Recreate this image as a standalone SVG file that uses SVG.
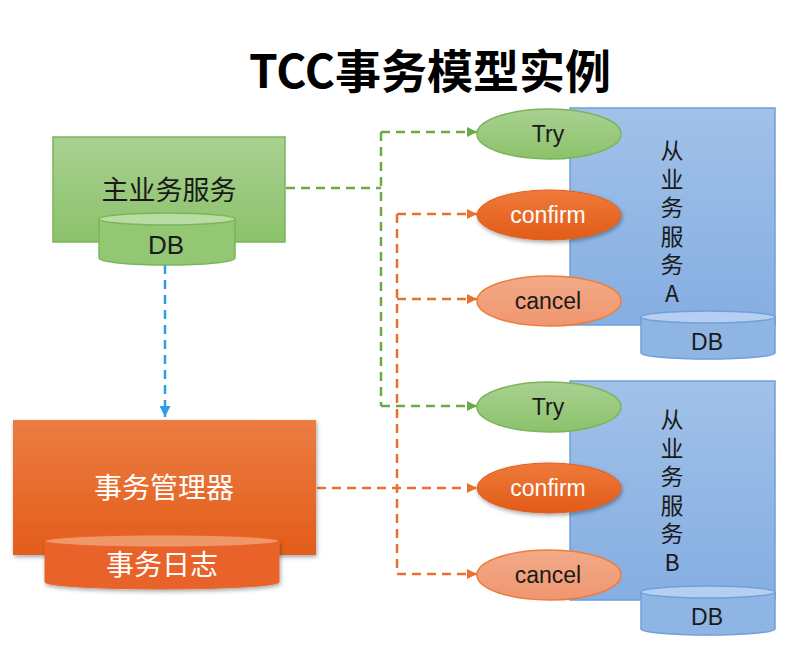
<svg xmlns="http://www.w3.org/2000/svg" width="795" height="666" viewBox="0 0 795 666">
<defs>
<linearGradient id="gGreen" x1="0" y1="0" x2="0" y2="1"><stop offset="0" stop-color="#a8d191"/><stop offset="1" stop-color="#8cc26b"/></linearGradient>
<linearGradient id="gOrange" x1="0" y1="0" x2="0" y2="1"><stop offset="0" stop-color="#ec7c42"/><stop offset="1" stop-color="#e35d1a"/></linearGradient>
<linearGradient id="gBlue" x1="0" y1="0" x2="0" y2="1"><stop offset="0" stop-color="#a1c1e8"/><stop offset="1" stop-color="#85aee2"/></linearGradient>
<linearGradient id="gConfirm" x1="0" y1="0" x2="0" y2="1"><stop offset="0" stop-color="#ef7a3a"/><stop offset="1" stop-color="#e25b17"/></linearGradient>
<linearGradient id="gCancel" x1="0" y1="0" x2="0" y2="1"><stop offset="0" stop-color="#f3aa88"/><stop offset="1" stop-color="#ef9670"/></linearGradient>
<filter id="shadow" x="-20%" y="-20%" width="140%" height="150%"><feDropShadow dx="1" dy="2" stdDeviation="2" flood-color="#000" flood-opacity="0.35"/></filter>
<marker id="aGreen" viewBox="0 0 10 10" refX="10" refY="5" markerWidth="10" markerHeight="10" markerUnits="userSpaceOnUse" orient="auto"><path d="M0,0 L10,5 L0,10 Z" fill="#6aab45"/></marker>
<marker id="aOrange" viewBox="0 0 10 10" refX="10" refY="5" markerWidth="10" markerHeight="10" markerUnits="userSpaceOnUse" orient="auto"><path d="M0,0 L10,5 L0,10 Z" fill="#ec6f2d"/></marker>
<marker id="aBlue" viewBox="0 0 10 10" refX="10" refY="5" markerWidth="11" markerHeight="11" markerUnits="userSpaceOnUse" orient="auto"><path d="M0,0 L10,5 L0,10 Z" fill="#2e9ee8"/></marker>
</defs>
<style>
.cjk{font-family:"Noto Sans CJK SC","Liberation Sans",sans-serif;}
.lat{font-family:"Liberation Sans","Noto Sans",sans-serif;}
.vert{font-family:"Noto Sans CJK SC","Liberation Sans",sans-serif;font-size:23px;fill:#1a1a1a;writing-mode:vertical-rl;text-orientation:upright;letter-spacing:5.5px;}
.dash-g{fill:none;stroke:#6aab45;stroke-width:2.5;stroke-dasharray:9 6;}
.dash-o{fill:none;stroke:#ec6f2d;stroke-width:2.5;stroke-dasharray:9 6;}
.dash-b{fill:none;stroke:#2e9ee8;stroke-width:2.5;stroke-dasharray:9 6;}
.try{fill:url(#gGreen);stroke:#7ab55a;stroke-width:1.5;}
.confirm{fill:url(#gConfirm);stroke:#e06020;stroke-width:1;filter:url(#shadow);}
.cancel{fill:url(#gCancel);stroke:#ec7d3c;stroke-width:1.5;}
.svc{fill:url(#gBlue);stroke:#6f9fdc;stroke-width:1.5;}
.dbB{fill:#8fb5e4;stroke:#6f9fdc;stroke-width:1.5;}
.dbBtop{fill:#b4cfef;stroke:#6f9fdc;stroke-width:1.5;}
</style>
<rect width="795" height="666" fill="#ffffff"/>
<text x="430" y="88" text-anchor="middle" class="cjk" font-size="46" font-weight="bold" fill="#000">TCC事务模型实例</text>

<g id="connectors">
<polyline class="dash-b" points="165,265 165,417" marker-end="url(#aBlue)"/>
<polyline class="dash-g" points="286,188 381,188"/>
<polyline class="dash-g" points="381,132 381,406"/>
<polyline class="dash-g" points="381,132 477,132" marker-end="url(#aGreen)"/>
<polyline class="dash-g" points="381,406 477,406" marker-end="url(#aGreen)"/>
<polyline class="dash-o" points="397,214 397,574"/>
<polyline class="dash-o" points="397,214 477,214" marker-end="url(#aOrange)"/>
<polyline class="dash-o" points="397,299 477,299" marker-end="url(#aOrange)"/>
<polyline class="dash-o" points="317,488 477,488" marker-end="url(#aOrange)"/>
<polyline class="dash-o" points="397,574 477,574" marker-end="url(#aOrange)"/>
</g>

<g id="main-service">
<rect x="53" y="137" width="232" height="105" fill="url(#gGreen)" stroke="#7ab55a" stroke-width="1.5"/>
<text x="169" y="200" text-anchor="middle" class="cjk" font-size="27" fill="#1a1a1a">主业务服务</text>
<path d="M99,219 L99,258 A68,7 0 0 0 235,258 L235,219" fill="#93c774" stroke="#7ab55a" stroke-width="1.5"/>
<ellipse cx="167" cy="219" rx="68" ry="6" fill="#b9dca3" stroke="#7ab55a" stroke-width="1.5"/>
<text x="166" y="254" text-anchor="middle" class="lat" font-size="26" fill="#1a1a1a">DB</text>
</g>

<g id="tx-manager">
<rect x="13" y="420" width="303" height="135" fill="url(#gOrange)" filter="url(#shadow)"/>
<text x="164" y="498" text-anchor="middle" class="cjk" font-size="28" fill="#ffffff">事务管理器</text>
<path d="M45,541 L45,582 A117,7 0 0 0 279,582 L279,541" fill="#e8622a" stroke="#e8662b" stroke-width="1" filter="url(#shadow)"/>
<ellipse cx="162" cy="541" rx="117" ry="6" fill="#f0976a" stroke="#e8662b" stroke-width="1"/>
<text x="162" y="575" text-anchor="middle" class="cjk" font-size="28" fill="#ffffff">事务日志</text>
</g>

<g id="service-a">
<rect class="svc" x="570" y="108" width="205" height="217"/>
<text class="vert" x="672" y="139">从业务服务A</text>
<path class="dbB" d="M641,317 L641,353 A67,6 0 0 0 775,353 L775,317"/>
<ellipse class="dbBtop" cx="708" cy="317" rx="67" ry="6"/>
<text x="707" y="350" text-anchor="middle" class="lat" font-size="23" fill="#1a1a1a">DB</text>
</g>

<g id="service-b">
<rect class="svc" x="570" y="381" width="205" height="219"/>
<text class="vert" x="672" y="408">从业务服务B</text>
<path class="dbB" d="M641,592 L641,629 A67,6 0 0 0 775,629 L775,592"/>
<ellipse class="dbBtop" cx="708" cy="592" rx="67" ry="6"/>
<text x="707" y="625" text-anchor="middle" class="lat" font-size="23" fill="#1a1a1a">DB</text>
</g>

<g id="try-a"><ellipse class="try" cx="549" cy="134" rx="72" ry="25"/><text x="548" y="142" text-anchor="middle" class="lat" font-size="23" fill="#1a1a1a">Try</text></g>
<g id="confirm-a"><ellipse class="confirm" cx="549" cy="215" rx="72" ry="25"/><text x="548" y="223" text-anchor="middle" class="lat" font-size="23" fill="#ffffff">confirm</text></g>
<g id="cancel-a"><ellipse class="cancel" cx="549" cy="301" rx="72" ry="25"/><text x="548" y="309" text-anchor="middle" class="lat" font-size="23" fill="#1a1a1a">cancel</text></g>
<g id="try-b"><ellipse class="try" cx="549" cy="407" rx="72" ry="25"/><text x="548" y="415" text-anchor="middle" class="lat" font-size="23" fill="#1a1a1a">Try</text></g>
<g id="confirm-b"><ellipse class="confirm" cx="549" cy="488" rx="72" ry="25"/><text x="548" y="496" text-anchor="middle" class="lat" font-size="23" fill="#ffffff">confirm</text></g>
<g id="cancel-b"><ellipse class="cancel" cx="549" cy="575" rx="72" ry="25"/><text x="548" y="583" text-anchor="middle" class="lat" font-size="23" fill="#1a1a1a">cancel</text></g>
</svg>
